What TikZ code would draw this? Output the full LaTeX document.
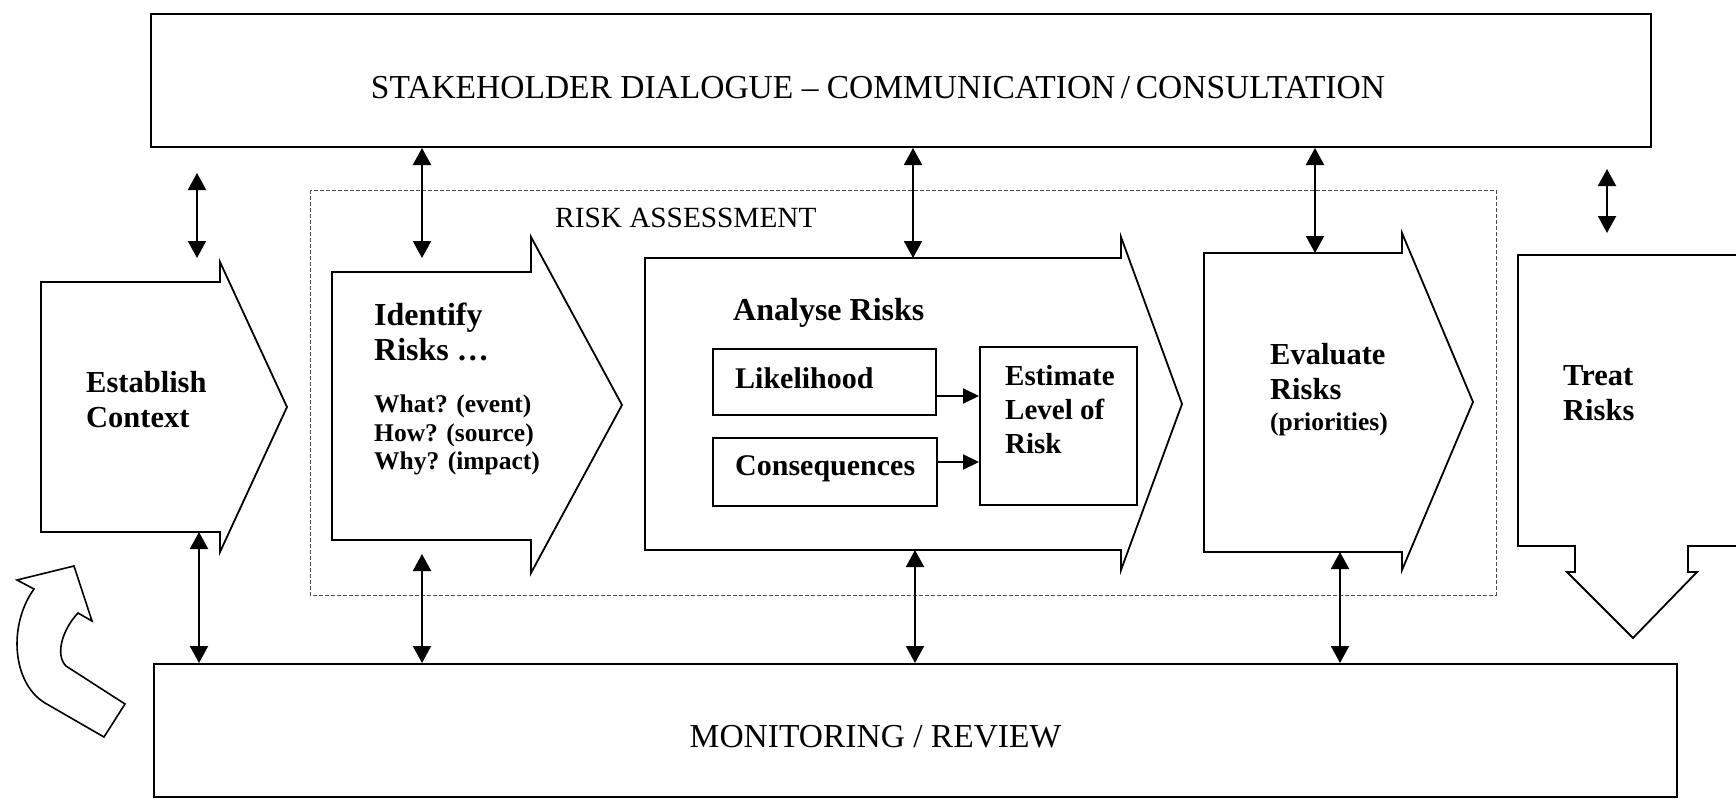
\documentclass[tikz,border=0pt]{standalone}
\usepackage{fontspec}
\setmainfont{Liberation Serif}
\usetikzlibrary{arrows.meta}
\tikzset{
  shapeline/.style={draw=black, line width=1.8pt, line join=miter, fill=white},
  box/.style={draw=black, line width=2pt, fill=white, inner sep=0pt},
  ibox/.style={draw=black, line width=2pt, inner sep=0pt},
  frame/.style={draw=black!70, line width=1pt, dash pattern=on 4pt off 2pt},
  dbl/.style={line width=2pt, {Triangle[width=18pt,length=17pt]}-{Triangle[width=18pt,length=17pt]}},
  sgl/.style={line width=2pt, -{Triangle[width=15pt,length=16pt]}},
  curv/.style={draw=black, line width=1.6pt, line join=miter},
  captxt/.style={inner sep=0pt, font=\fontsize{33.5}{38}\selectfont},
  lab/.style={anchor=west, align=left, inner sep=0pt, font=\fontsize{30.5}{35}\selectfont\bfseries},
  slab/.style={anchor=west, align=left, inner sep=0pt, font=\fontsize{25.5}{28.5}\selectfont\bfseries},
}
\begin{document}
\begin{tikzpicture}[x=1pt,y=-1pt]
\useasboundingbox (0,0) rectangle (1736,798);
% risk assessment frame
\draw[frame] (310,190) rectangle (1496,595);
\node[captxt, anchor=west, font=\fontsize{29.3}{34}\selectfont] (ratxt) at (555,218) {RISK ASSESSMENT};
% top and bottom boxes
\node[box, minimum width=1500pt, minimum height=133pt] (top) at (901,80.5) {};
\node[captxt] (toptxt) at (878,88) {STAKEHOLDER DIALOGUE -- COMMUNICATION\,/\,CONSULTATION};
\node[box, minimum width=1523pt, minimum height=133pt] (bot) at (915.5,730.5) {};
\node[captxt] (bottxt) at (875.5,737) {MONITORING / REVIEW};
% chevrons
\draw[shapeline] (41,282) -- (220,282) -- (220,262) -- (287,407) -- (220,552) -- (220,532) -- (41,532) -- cycle;
\draw[shapeline] (332,272) -- (531,272) -- (531,237) -- (622,405) -- (531,573) -- (531,540) -- (332,540) -- cycle;
\draw[shapeline] (645,258) -- (1121,258) -- (1121,237) -- (1182,404) -- (1121,570) -- (1121,550) -- (645,550) -- cycle;
\draw[shapeline] (1204,253) -- (1402,253) -- (1402,233) -- (1473,402) -- (1402,570) -- (1402,552) -- (1204,552) -- cycle;
\draw[shapeline] (1760,255) -- (1518,255) -- (1518,546) -- (1575,546) -- (1575,572) -- (1567,572) -- (1633,638) -- (1697,572) -- (1688,572) -- (1688,546) -- (1760,546);
% labels
\node[lab] (ectxt) at (86,400) {Establish\\Context};
\node[lab, font=\fontsize{32}{35}\selectfont\bfseries] (idtxt) at (374,332) {Identify\\Risks \dots};
\node[slab] (idsub) at (374,435) {What? (event)\\How? (source)\\Why? (impact)};
\node[lab, font=\fontsize{32}{35}\selectfont\bfseries] (antxt) at (733,313) {Analyse Risks};
\node[lab] (evtxt) at (1270,372) {Evaluate\\Risks};
\node[slab] (evsub) at (1270,424) {(priorities)};
\node[lab] (trtxt) at (1563,393) {Treat\\Risks};
% inner boxes
\node[ibox, minimum width=223pt, minimum height=66pt] (lik) at (824.5,382) {};
\node[lab, font=\fontsize{30}{35}\selectfont\bfseries] (liktxt) at (735,378) {Likelihood};
\node[ibox, minimum width=224pt, minimum height=68pt] (con) at (825,472) {};
\node[lab, font=\fontsize{30}{35}\selectfont\bfseries] (contxt) at (735,469) {Consequences};
\node[ibox, minimum width=157pt, minimum height=158pt] (est) at (1058.5,426) {};
\node[lab, font=\fontsize{29}{34}\selectfont\bfseries] (esttxt) at (1005,410) {Estimate\\Level of\\Risk};
\coordinate (ya) at (0,396);
\coordinate (yc) at (0,462);
\draw[sgl] (lik.east |- ya) -- (est.west |- ya);
\draw[sgl] (con.east |- yc) -- (est.west |- yc);
% double arrows
\coordinate (a1t) at (197,173); \coordinate (a1b) at (197,258);
\draw[dbl] (a1t) -- (a1b);
\coordinate (a2) at (422,258); \draw[dbl] (top.south -| a2) -- (a2);
\coordinate (a3) at (913,258); \draw[dbl] (top.south -| a3) -- (a3);
\coordinate (a4) at (1315,253); \draw[dbl] (top.south -| a4) -- (a4);
\coordinate (a5t) at (1607,169); \coordinate (a5b) at (1607,233);
\draw[dbl] (a5t) -- (a5b);
\coordinate (b1) at (199,532); \draw[dbl] (b1) -- (bot.north -| b1);
\coordinate (b2) at (422,554); \draw[dbl] (b2) -- (bot.north -| b2);
\coordinate (b3) at (915,550); \draw[dbl] (b3) -- (bot.north -| b3);
\coordinate (b4) at (1340,552); \draw[dbl] (b4) -- (bot.north -| b4);
% curved return arrow
\draw[curv] (34,589) -- (17,580) -- (74,566) -- (92,621) -- (78,613) .. controls (62,630) and (55,655) .. (66,666) -- (125,704) -- (104,737) -- (45,703) .. controls (12,683) and (8,625) .. (34,589) -- cycle;
\end{tikzpicture}
\end{document}
